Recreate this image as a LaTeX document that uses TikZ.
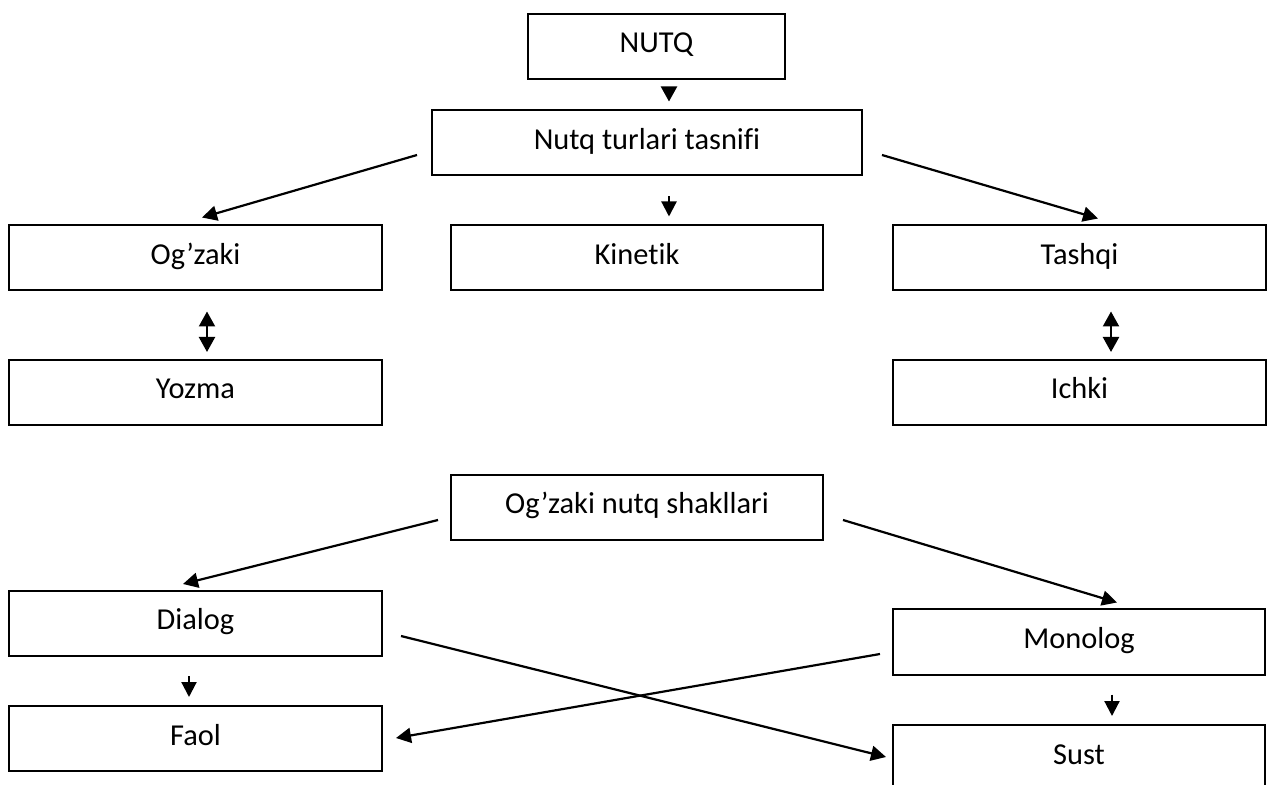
\documentclass[tikz,border=0pt]{standalone}
\usepackage{fontspec}
\setmainfont{Carlito}[Ligatures={NoCommon}]
\usetikzlibrary{arrows.meta}

\begin{document}
\begin{tikzpicture}[x=0.5pt, y=-0.5pt,
  box/.style={draw, line width=1pt, minimum height=32.5pt, inner sep=0pt, text height=10pt, text depth=3.5pt, font=\fontsize{15.2pt}{18pt}\selectfont},
  arr/.style={line width=1.1pt, -{Triangle[length=7.5pt,width=7.5pt]}},
  darr/.style={line width=1.1pt, {Triangle[length=7.5pt,width=8pt]}-{Triangle[length=7.5pt,width=8pt]}}]
  \useasboundingbox (0,0) rectangle (1269,785);
  \node [box, minimum width=128.5pt] (nutq) at (656.5,46.5) {NUTQ};
  \node [box, minimum width=215pt] (tasnif) at (647,143) {Nutq turlari tasnifi};
  \node [box, minimum width=186.5pt] (ogzaki) at (195.5,258) {Og’zaki};
  \node [box, minimum width=186pt] (kinetik) at (637,258) {Kinetik};
  \node [box, minimum width=186.5pt] (tashqi) at (1079.5,258) {Tashqi};
  \node [box, minimum width=186.5pt] (yozma) at (195.5,392.5) {Yozma};
  \node [box, minimum width=186.5pt] (ichki) at (1079.5,392.5) {Ichki};
  \node [box, minimum width=186pt] (shakl) at (637,507.5) {Og’zaki nutq shakllari};
  \node [box, minimum width=186.5pt] (dialog) at (195.5,623.5) {Dialog};
  \node [box, minimum width=186pt] (monolog) at (1079,642) {Monolog};
  \node [box, minimum width=186.5pt] (faol) at (195.5,738.5) {Faol};
  \node [box, minimum width=186pt] (sust) at (1079,757.5) {Sust};
  % upper part
  \draw [line width=1.1pt, -{Triangle[length=7.5pt,width=8pt]}] ([shift={(12.5,9)}]nutq.south) -- ([shift={(22,-8)}]tasnif.north);
  \draw [arr] ([shift={(-14,12)}]tasnif.west) -- ([shift={(6.5,-7)}]ogzaki.north);
  \draw [arr] ([shift={(22,20)}]tasnif.south) -- ([shift={(32,-8)}]kinetik.north);
  \draw [arr] ([shift={(19,12)}]tasnif.east) -- ([shift={(18.5,-6)}]tashqi.north);
  \draw [darr] ([shift={(11.5,20)}]ogzaki.south) -- ([shift={(11.5,-7)}]yozma.north);
  \draw [darr] ([shift={(31.5,20)}]tashqi.south) -- ([shift={(31.5,-7)}]ichki.north);
  % lower part
  \draw [arr] ([shift={(-12,12.5)}]shakl.west) -- ([shift={(-12.5,-6)}]dialog.north);
  \draw [arr] ([shift={(19,12.5)}]shakl.east) -- ([shift={(38,-6)}]monolog.north);
  \draw [arr] ([shift={(18,12.5)}]dialog.east) -- ([shift={(-6,-0.5)}]sust.west);
  \draw [arr] ([shift={(-12,12)}]monolog.west) -- ([shift={(13,-0.5)}]faol.east);
  \draw [arr] ([shift={(-6.5,19)}]dialog.south) -- ([shift={(-6.5,-8)}]faol.north);
  \draw [arr] ([shift={(33,19)}]monolog.south) -- ([shift={(33,-8)}]sust.north);
\end{tikzpicture}
\end{document}
